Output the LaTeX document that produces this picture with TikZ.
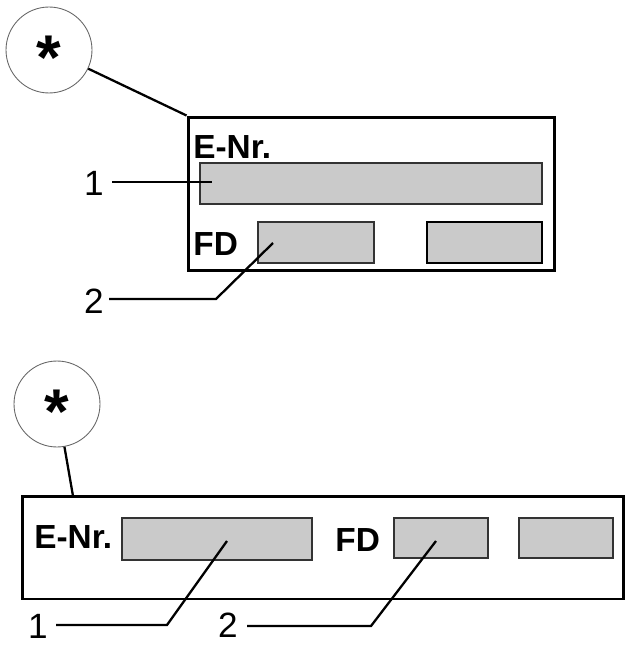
\documentclass[tikz,border=0pt]{standalone}
\usepackage{fontspec}
\setmainfont{Liberation Sans}
\usetikzlibrary{positioning}
\definecolor{fieldgray}{RGB}{202,202,202}
\tikzset{
  starcircle/.style={circle,draw=black!60,line width=0.5pt,minimum size=1.72cm,inner sep=0pt,font=\bfseries\fontsize{36}{36}\selectfont},
  plate/.style={draw,line width=1.7pt,inner sep=0pt},
  field/.style={draw=black!80,fill=fieldgray,line width=1pt,inner sep=0pt},
  plabel/.style={inner sep=0pt,font=\bfseries\fontsize{19}{19}\selectfont},
  numlabel/.style={inner sep=0pt,font=\fontsize{20}{20}\selectfont},
  leader/.style={line width=1.3pt}
}
\newcommand{\starmark}{\raisebox{-0.46em}[0pt][0pt]{*}}
\begin{document}
\begin{tikzpicture}[x=0.02cm,y=-0.02cm]
      \useasboundingbox(0,0)rectangle(629,645);
      % upper plate
      \node[starcircle](s1)at(49,50){\starmark};
      \node[plate,minimum width=7.34cm,minimum height=3.08cm](plate1)at(371.5,194){};
      \draw[leader](s1)--(plate1.north west);
      \node[plabel,anchor=base west](enr1)at(193,159){E-Nr.};
      \node[field,minimum width=6.84cm,minimum height=0.82cm](fa1)at(371,183.5){};
      \node[plabel,anchor=base west](fd1)at(193,255){FD};
      \node[field,minimum width=2.32cm,minimum height=0.82cm](fb1)at(316,242.5){};
      \node[field,draw=black,line width=1.5pt,minimum width=2.3cm,minimum height=0.82cm](fc1)at(484.5,242.5){};
      \node[numlabel,anchor=base east](n1a)at(104,195){1};
      \node[numlabel,anchor=base east](n2a)at(104,313){2};
      \coordinate(q1a)at(112,182);
      \coordinate(p1a)at(212,182);
      \coordinate(q2a)at(109,299);
      \coordinate(p2a)at(273,243);
      \draw[leader](q1a)--(p1a);
      \draw[leader](q2a)--(216,299)--(p2a);
      % lower plate
      \node[starcircle](s2)at(57,404){\starmark};
      \node[plate,minimum width=12.04cm,minimum height=2.06cm](plate2)at(323,547.5){};
      \coordinate(t2)at(73,496);
      \draw[leader](s2)--(t2);
      \node[plabel,anchor=base west](enr2)at(34,548){E-Nr.};
      \node[field,minimum width=3.8cm,minimum height=0.84cm](fa2)at(217,539){};
      \node[plabel,anchor=base west](fd2)at(335,551){FD};
      \node[field,minimum width=1.88cm,minimum height=0.8cm](fb2)at(441,538){};
      \node[field,minimum width=1.88cm,minimum height=0.8cm](fc2)at(566,538){};
      \node[numlabel,anchor=base east](n1b)at(48,638){1};
      \node[numlabel,anchor=base east](n2b)at(238,637){2};
      \coordinate(q1b)at(56,625);
      \coordinate(p1b)at(227,541);
      \coordinate(q2b)at(247,626);
      \coordinate(p2b)at(436,541);
      \draw[leader](q1b)--(167,625)--(p1b);
      \draw[leader](q2b)--(371,626)--(p2b);
    \end{tikzpicture}
\end{document}
